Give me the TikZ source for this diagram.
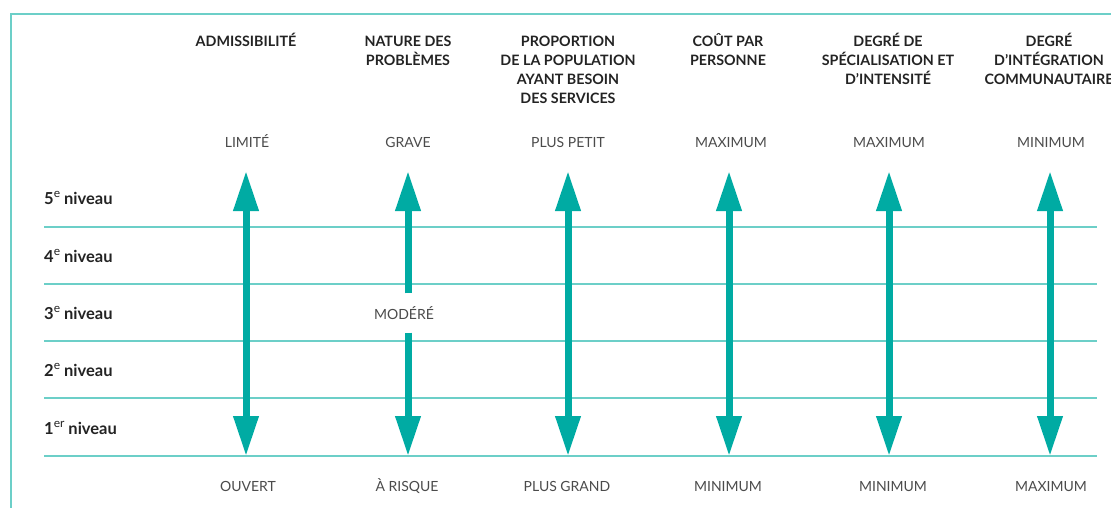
\documentclass[tikz,border=0pt]{standalone}
\usepackage{fontspec}
\setmainfont{Lato}
\usetikzlibrary{arrows.meta}
\definecolor{sarcelle}{RGB}{0,171,163}
\definecolor{sarcelleclair}{RGB}{108,207,200}
\definecolor{gristexte}{RGB}{75,75,75}
\definecolor{noirtexte}{RGB}{35,35,35}
\newcommand{\expo}[1]{\raisebox{0.42em}{\mdseries\fontsize{12}{12}\selectfont #1}}
\newcommand{\premiere}[1]{\rule{0pt}{15pt}\smash{#1}}

\begin{document}
\begin{tikzpicture}[x=1pt,y=-1pt,
		titre/.style={font=\bfseries\fontsize{14.3}{19}\selectfont, align=center, anchor=north, inner sep=0pt, text=noirtexte},
		valeur/.style={font=\fontsize{14}{16}\selectfont, text=gristexte, inner sep=0pt, anchor=base},
		niveau/.style={font=\bfseries\fontsize{16.5}{18}\selectfont, anchor=base west, inner sep=0pt, text=noirtexte},
		ligne/.style={sarcelleclair, line width=2pt},
		fleche/.style={sarcelle, line width=7pt, -{Triangle[width=24pt,length=40pt]}},
		doublefleche/.style={sarcelle, line width=7pt, {Triangle[width=24pt,length=40pt]}-{Triangle[width=24pt,length=40pt]}}]
		\useasboundingbox (0,0) rectangle (1111,508);
		% cadre
		\draw [ligne] (1111,14) -- (11,14) -- (11,508);
		% en-tetes
		\node [titre] (hAdm) at (246,31) {\premiere{ADMISSIBILITÉ}};
		\node [titre] (hNat) at (408,31) {\premiere{NATURE DES}\\PROBLÈMES};
		\node [titre] (hProp) at (568,31) {\premiere{PROPORTION}\\DE LA POPULATION\\AYANT BESOIN\\DES SERVICES};
		\node [titre] (hCout) at (728,31) {\premiere{COÛT PAR}\\PERSONNE};
		\node [titre] (hSpec) at (888,31) {\premiere{DEGRÉ DE}\\SPÉCIALISATION ET\\D’INTENSITÉ};
		\node [titre] (hInteg) at (1049,31) {\premiere{DEGRÉ}\\D’INTÉGRATION\\COMMUNAUTAIRE};
		% valeurs du haut
		\node [valeur] (tAdm) at (247,148) {LIMITÉ};
		\node [valeur] (tNat) at (408,148) {GRAVE};
		\node [valeur] (tProp) at (568,148) {PLUS PETIT};
		\node [valeur] (tCout) at (731,148) {MAXIMUM};
		\node [valeur] (tSpec) at (889,148) {MAXIMUM};
		\node [valeur] (tInteg) at (1051,148) {MINIMUM};
		% valeurs du bas
		\node [valeur] (bAdm) at (248,491) {OUVERT};
		\node [valeur] (bNat) at (407,491) {À RISQUE};
		\node [valeur] (bProp) at (567,491) {PLUS GRAND};
		\node [valeur] (bCout) at (728,491) {MINIMUM};
		\node [valeur] (bSpec) at (893,491) {MINIMUM};
		\node [valeur] (bInteg) at (1051,491) {MAXIMUM};
		% niveaux
		\node [niveau] (n5) at (44,204) {5\expo{e} niveau};
		\node [niveau] (n4) at (44,262) {4\expo{e} niveau};
		\node [niveau] (n3) at (44,319) {3\expo{e} niveau};
		\node [niveau] (n2) at (44,376) {2\expo{e} niveau};
		\node [niveau] (n1) at (44,434) {1\expo{er} niveau};
		\draw [ligne] (44,227) -- (1097,227);
		\draw [ligne] (44,284) -- (1097,284);
		\draw [ligne] (44,341) -- (1097,341);
		\draw [ligne] (44,398) -- (1097,398);
		\draw [ligne] (44,456) -- (1097,456);
		% fleches
		\coordinate (aAdm) at (246,171);
		\coordinate (zAdm) at (246,456);
		\coordinate (aNat) at (408,171);
		\coordinate (zNat) at (408,456);
		\coordinate (aProp) at (568,171);
		\coordinate (zProp) at (568,456);
		\coordinate (aCout) at (729,171);
		\coordinate (zCout) at (729,456);
		\coordinate (aSpec) at (889,171);
		\coordinate (zSpec) at (889,456);
		\coordinate (aInteg) at (1050,171);
		\coordinate (zInteg) at (1050,456);
		\draw [doublefleche] (aAdm) -- (zAdm);
		\node [valeur, anchor=center, minimum height=39pt] (mod) at (404,313) {MODÉRÉ};
		\draw [fleche] (mod.north -| aNat) -- (aNat);
		\draw [fleche] (mod.south -| zNat) -- (zNat);
		\draw [doublefleche] (aProp) -- (zProp);
		\draw [doublefleche] (aCout) -- (zCout);
		\draw [doublefleche] (aSpec) -- (zSpec);
		\draw [doublefleche] (aInteg) -- (zInteg);
	\end{tikzpicture}
\end{document}
